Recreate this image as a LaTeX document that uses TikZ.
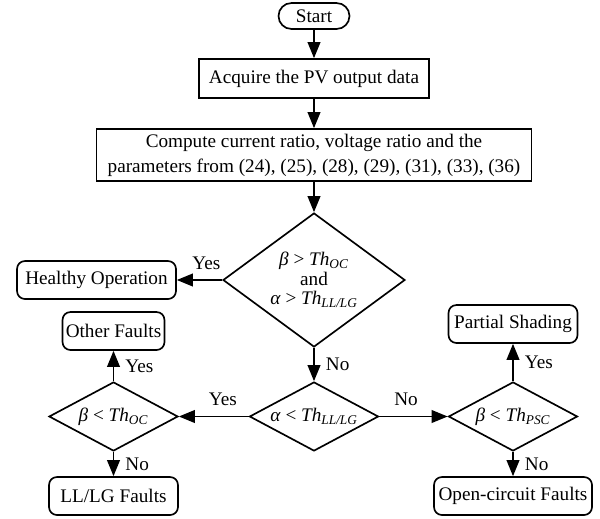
\documentclass[tikz,border=0pt]{standalone}
\usepackage{fontspec}
\setmainfont{Liberation Serif}
\usetikzlibrary{shapes.geometric,arrows.meta}
\newcommand{\thr}[1]{\textit{Th}\textsubscript{\textit{#1}}}

\begin{document}
\begin{tikzpicture}[x=0.75pt, y=-0.75pt,
	font=\fontsize{14.4}{18.75}\selectfont,
	line width=1.25pt,
	>={Triangle[length=12pt, width=9.5pt]},
	proc/.style={rectangle, draw, minimum height=29.25pt, inner sep=1pt},
	term/.style={rectangle, rounded corners=9.75pt, draw, minimum width=53.25pt, minimum height=19.5pt, inner sep=1pt},
	result/.style={rectangle, rounded corners=6pt, draw, minimum height=28.5pt, inner sep=1pt},
	test/.style={diamond, draw, inner sep=0pt, aspect=1.87, minimum width=96.75pt, minimum height=51.75pt},
	lblr/.style={right, xshift=5pt},
	lbla/.style={above, yshift=4pt}]
	\useasboundingbox (0, 0) rectangle (600, 518);
	\node[term] (start) at (314, 16) {Start};
	\node[proc, minimum width=172.5pt] (acquire) at (314, 78.5) {Acquire the PV output data};
	\node[proc, minimum width=326.25pt, minimum height=39pt, align=center] (compute) at (314, 155)
	    {Compute current ratio, voltage ratio and the\\parameters from (24), (25), (28), (29), (31), (33), (36)};
	\node[test, aspect=1.36, minimum width=136.5pt, minimum height=100.5pt, align=center,
	    font=\fontsize{14.4}{14.5}\selectfont] (chk1) at (314, 280)
	    {\textit{β} > \thr{OC}\\and\\\textit{α} > \thr{LL/LG}};
	\node[result, minimum width=119.25pt] (healthy) at (96.5, 280) {Healthy Operation};
	\node[test] (chk2) at (314, 416.5) {\textit{α} < \thr{LL/LG}};
	\node[test] (chk3) at (113.5, 416.5) {\textit{β} < \thr{OC}};
	\node[test] (chk4) at (513, 416.5) {\textit{β} < \thr{PSC}};
	\node[result, minimum width=76.5pt] (other) at (113.5, 331) {Other Faults};
	\node[result, minimum width=96.75pt] (llg) at (113.5, 496) {LL/LG Faults};
	\node[result, minimum width=96.75pt] (shading) at (513, 324) {Partial Shading};
	\node[result, minimum width=118.5pt] (opencirc) at (513, 496) {Open-circuit Faults};
	\draw[->] (start) -- (acquire);
	\draw[->] (acquire) -- (compute);
	\draw[->] (compute) -- (chk1);
	\draw[->] (chk1) -- node[lbla, pos=0.35]{Yes} (healthy);
	\draw[->] (chk1) -- node[lblr]{No} (chk2);
	\draw[->] (chk2) -- node[lbla, pos=0.37]{Yes} (chk3);
	\draw[->] (chk2) -- node[lbla, pos=0.39]{No} (chk4);
	\draw[->] (chk3) -- node[lblr]{Yes} (other);
	\draw[->] (chk3) -- node[lblr]{No} (llg);
	\draw[->] (chk4) -- node[lblr]{Yes} (shading);
	\draw[->] (chk4) -- node[lblr]{No} (opencirc);
\end{tikzpicture}
\end{document}
